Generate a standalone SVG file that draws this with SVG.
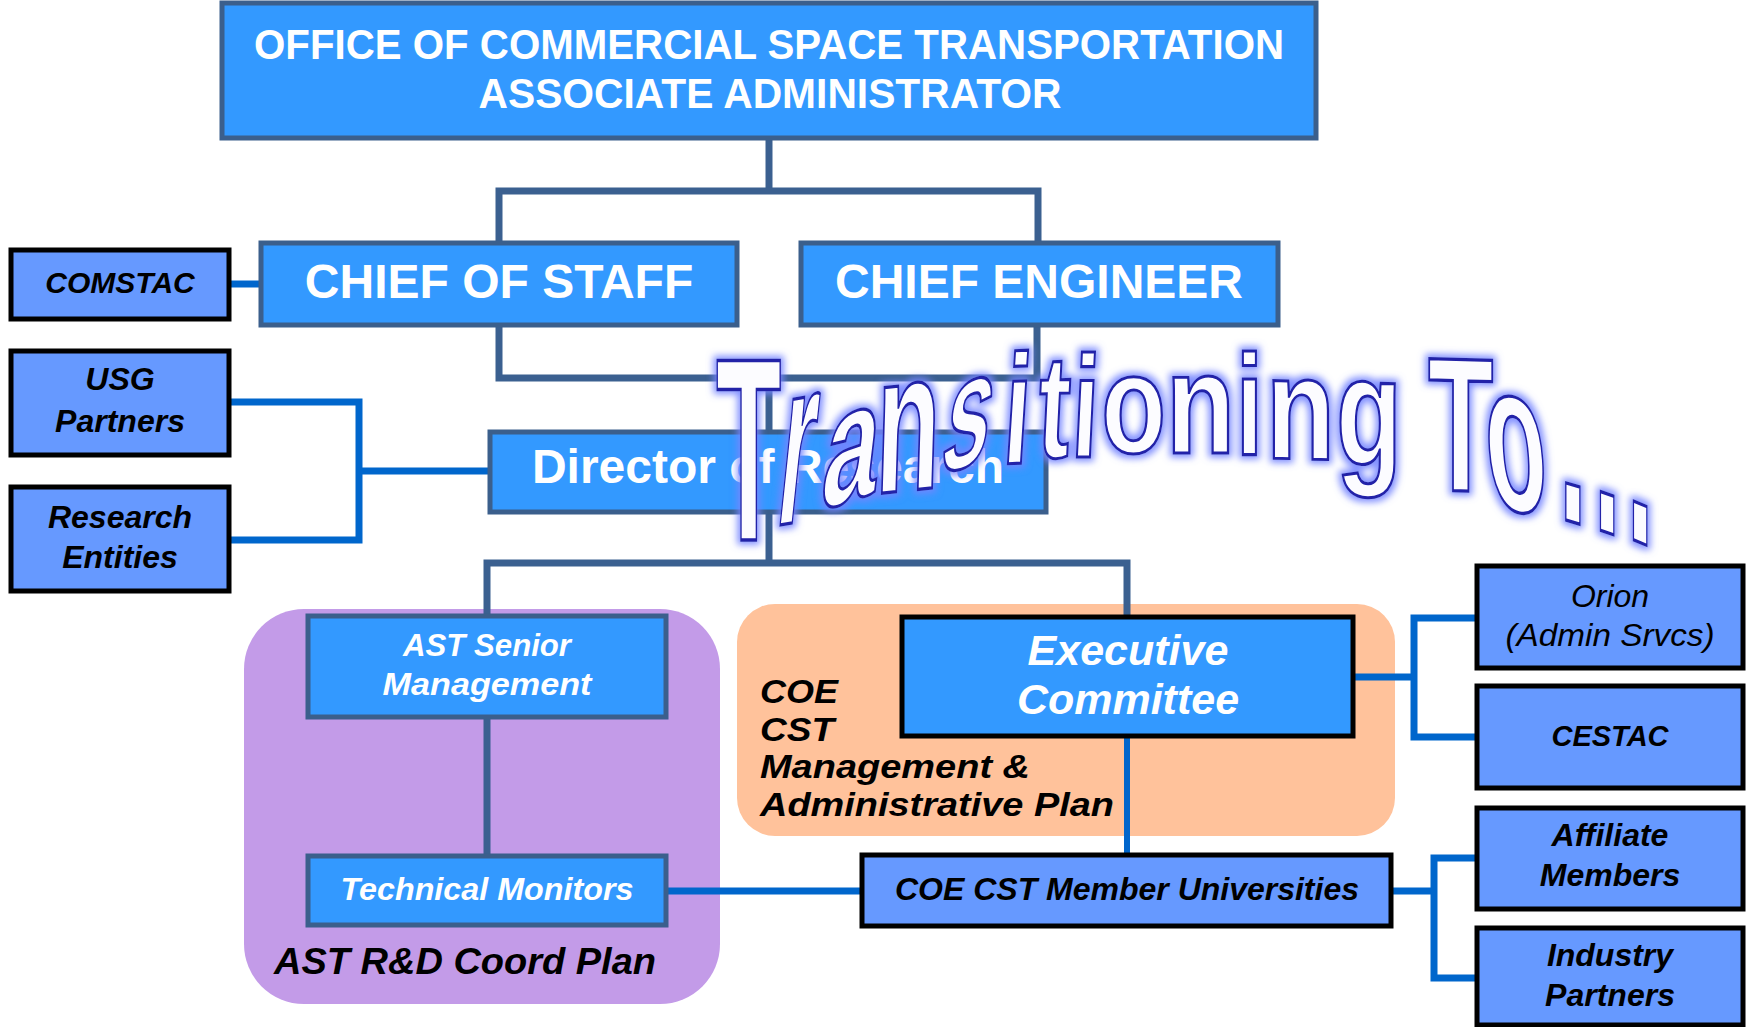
<svg xmlns="http://www.w3.org/2000/svg" width="1748" height="1027" viewBox="0 0 1748 1027">
<defs>
<style>
.main{fill:#3399FF;stroke:#3B5F8C;stroke-width:5}
.exec{fill:#3399FF;stroke:#000;stroke-width:5}
.lite{fill:#6699FF;stroke:#000;stroke-width:5}
.cd{fill:none;stroke:#3B6090;stroke-width:7;stroke-linejoin:miter}
.cb{fill:none;stroke:#0066CC;stroke-width:7;stroke-linejoin:miter}
.t{font-family:"Liberation Sans",Arial,sans-serif;font-weight:bold;text-anchor:middle}
.s{text-anchor:start}
.w{fill:#fff}
.k{fill:#000}
.i{font-style:italic}
.wa{font-family:"Liberation Sans",Arial,sans-serif;font-weight:bold;font-size:100px;fill:#FCFCFF;stroke:#2020A8;stroke-width:2.6;vector-effect:non-scaling-stroke}
</style>
<filter id="glow" x="-5%" y="-30%" width="110%" height="160%">
<feMorphology in="SourceAlpha" operator="dilate" radius="2.5" result="d"/>
<feGaussianBlur in="d" stdDeviation="3.5" result="b"/>
<feFlood flood-color="#7585FF" flood-opacity="0.9"/>
<feComposite in2="b" operator="in" result="g"/>
<feMerge><feMergeNode in="g"/><feMergeNode in="SourceGraphic"/></feMerge>
</filter>
</defs>
<rect width="1748" height="1027" fill="#fff"/>

<g id="plan-ast">
<rect x="244" y="609" width="476" height="395" rx="60" fill="#C39BE8"/>
<text class="t k i s" x="274" y="974" font-size="36" textLength="382" lengthAdjust="spacingAndGlyphs">AST R&amp;D Coord Plan</text>
</g>
<g id="plan-coe">
<rect x="737" y="604" width="658" height="232" rx="38" fill="#FFC29B"/>
<text class="t k i s" x="760" y="703" font-size="33.5" textLength="78" lengthAdjust="spacingAndGlyphs">COE</text>
<text class="t k i s" x="760" y="740.5" font-size="33.5" textLength="74" lengthAdjust="spacingAndGlyphs">CST</text>
<text class="t k i s" x="760" y="778" font-size="33.5" textLength="270" lengthAdjust="spacingAndGlyphs">Management &amp;</text>
<text class="t k i s" x="760" y="815.5" font-size="33.5" textLength="354" lengthAdjust="spacingAndGlyphs">Administrative Plan</text>
</g>

<g id="connectors">
<path class="cd" d="M769,138 V191"/>
<path class="cd" d="M499,243 V191 H1038 V243"/>
<path class="cd" d="M499,325 V378 H1037 V325"/>
<path class="cd" d="M769,378 V432"/>
<path class="cd" d="M769,512 V563"/>
<path class="cd" d="M487,616 V563 H1127 V617"/>
<path class="cd" d="M487,717 V856"/>
<path class="cb" d="M229,284 H261"/>
<path class="cb" d="M229,402 H359 V540 H229"/>
<path class="cb" d="M359,471 H490"/>
<path class="cb" d="M666,891 H862"/>
<path class="cb" d="M1127,736 V855" style="stroke-width:6"/>
<path class="cb" d="M1353,677 H1414"/>
<path class="cb" d="M1477,618 H1414 V737 H1477"/>
<path class="cb" d="M1391,891 H1434"/>
<path class="cb" d="M1477,858 H1434 V978 H1477"/>
</g>

<g id="office">
<rect class="main" x="222" y="3" width="1094" height="135"/>
<text class="t w" x="769" y="59" font-size="43" textLength="1030" lengthAdjust="spacingAndGlyphs">OFFICE OF COMMERCIAL SPACE TRANSPORTATION</text>
<text class="t w" x="770" y="108" font-size="43" textLength="583" lengthAdjust="spacingAndGlyphs">ASSOCIATE ADMINISTRATOR</text>
</g>
<g id="chief-of-staff">
<rect class="main" x="261" y="243" width="476" height="82"/>
<text class="t w" x="499" y="298" font-size="48">CHIEF OF STAFF</text>
</g>
<g id="chief-engineer">
<rect class="main" x="801" y="243" width="477" height="82"/>
<text class="t w" x="1039" y="298" font-size="48">CHIEF ENGINEER</text>
</g>
<g id="comstac">
<rect class="lite" x="11" y="250" width="218" height="69"/>
<text class="t k i" x="120" y="293" font-size="30">COMSTAC</text>
</g>
<g id="usg-partners">
<rect class="lite" x="11" y="351" width="218" height="104"/>
<text class="t k i" x="120" y="390" font-size="32">USG</text>
<text class="t k i" x="120" y="432" font-size="32">Partners</text>
</g>
<g id="research-entities">
<rect class="lite" x="11" y="487" width="218" height="104"/>
<text class="t k i" x="120" y="528" font-size="32">Research</text>
<text class="t k i" x="120" y="568" font-size="32">Entities</text>
</g>
<g id="director">
<rect class="main" x="490" y="432" width="556" height="80"/>
<text class="t w" x="768" y="483" font-size="48">Director of Research</text>
</g>
<g id="ast-senior">
<rect class="main" x="308" y="616" width="358" height="101"/>
<text class="t w i" x="487" y="656" font-size="32" textLength="168" lengthAdjust="spacingAndGlyphs">AST Senior</text>
<text class="t w i" x="487" y="695" font-size="32" textLength="209" lengthAdjust="spacingAndGlyphs">Management</text>
</g>
<g id="technical-monitors">
<rect class="main" x="308" y="856" width="358" height="69"/>
<text class="t w i" x="487" y="900" font-size="31" textLength="293" lengthAdjust="spacingAndGlyphs">Technical Monitors</text>
</g>
<g id="executive-committee">
<rect class="exec" x="902" y="617" width="451" height="119"/>
<text class="t w i" x="1128" y="665" font-size="43">Executive</text>
<text class="t w i" x="1128" y="714" font-size="43">Committee</text>
</g>
<g id="coe-universities">
<rect class="lite" x="862" y="855" width="529" height="71"/>
<text class="t k i" x="1127" y="900" font-size="31" textLength="464" lengthAdjust="spacingAndGlyphs">COE CST Member Universities</text>
</g>
<g id="orion">
<rect class="lite" x="1477" y="566" width="266" height="102"/>
<text class="t k i" x="1610" y="607" font-size="32" style="font-weight:normal">Orion</text>
<text class="t k i" x="1610" y="646" font-size="32" style="font-weight:normal" textLength="209" lengthAdjust="spacingAndGlyphs">(Admin Srvcs)</text>
</g>
<g id="cestac">
<rect class="lite" x="1477" y="686" width="266" height="102"/>
<text class="t k i" x="1610" y="746" font-size="29">CESTAC</text>
</g>
<g id="affiliate-members">
<rect class="lite" x="1477" y="808" width="266" height="101"/>
<text class="t k i" x="1610" y="846" font-size="32">Affiliate</text>
<text class="t k i" x="1610" y="886" font-size="32">Members</text>
</g>
<g id="industry-partners">
<rect class="lite" x="1477" y="928" width="266" height="97"/>
<text class="t k i" x="1610" y="966" font-size="32">Industry</text>
<text class="t k i" x="1610" y="1006" font-size="32">Partners</text>
</g>

<g id="wordart" filter="url(#glow)">
<text class="wa" transform="matrix(1.07 0 0 2.61 716 540)">T</text>
<text class="wa" transform="matrix(0.88 -0.15 -0.25 2.38 774 526)">r</text>
<text class="wa" transform="matrix(1.0 -0.33 -0.2 1.7 818.5 511)">a</text>
<text class="wa" transform="matrix(1.05 -0.11 -0.06 2.0 874.6 494)">n</text>
<text class="wa" transform="matrix(0.85 -0.26 -0.28 1.66 937.4 475)">s</text>
<text class="wa" transform="matrix(0.95 -0.04 -0.1 1.56 1001.3 464)">i</text>
<text class="wa" transform="matrix(0.97 -0.03 -0.07 1.47 1036 458)">t</text>
<text class="wa" transform="matrix(0.95 0 -0.07 1.45 1070.3 457)">i</text>
<text class="wa" transform="matrix(1.06 0 0 1.41 1101.3 453)">o</text>
<text class="wa" transform="matrix(1.13 0 0 1.42 1166 453)">n</text>
<text class="wa" transform="matrix(0.95 0 0 1.42 1236.3 455)">i</text>
<text class="wa" transform="matrix(1.13 0.03 0 1.47 1266 458)">n</text>
<text class="wa" transform="matrix(1.08 0.03 0 1.55 1336 464)">g</text>
<text class="wa" transform="matrix(1.07 0.03 0 1.91 1428 490)">T</text>
<text class="wa" transform="matrix(1.0 0.2 0.15 2.13 1489.5 505)">o</text>
<text class="wa" transform="matrix(1.0 0.3 0 2.5 1559 518)">.</text>
<text class="wa" transform="matrix(0.95 0.33 0 2.6 1594 528)">.</text>
<text class="wa" transform="matrix(0.95 0.4 0 2.6 1627 537)">.</text>
</g>
</svg>
